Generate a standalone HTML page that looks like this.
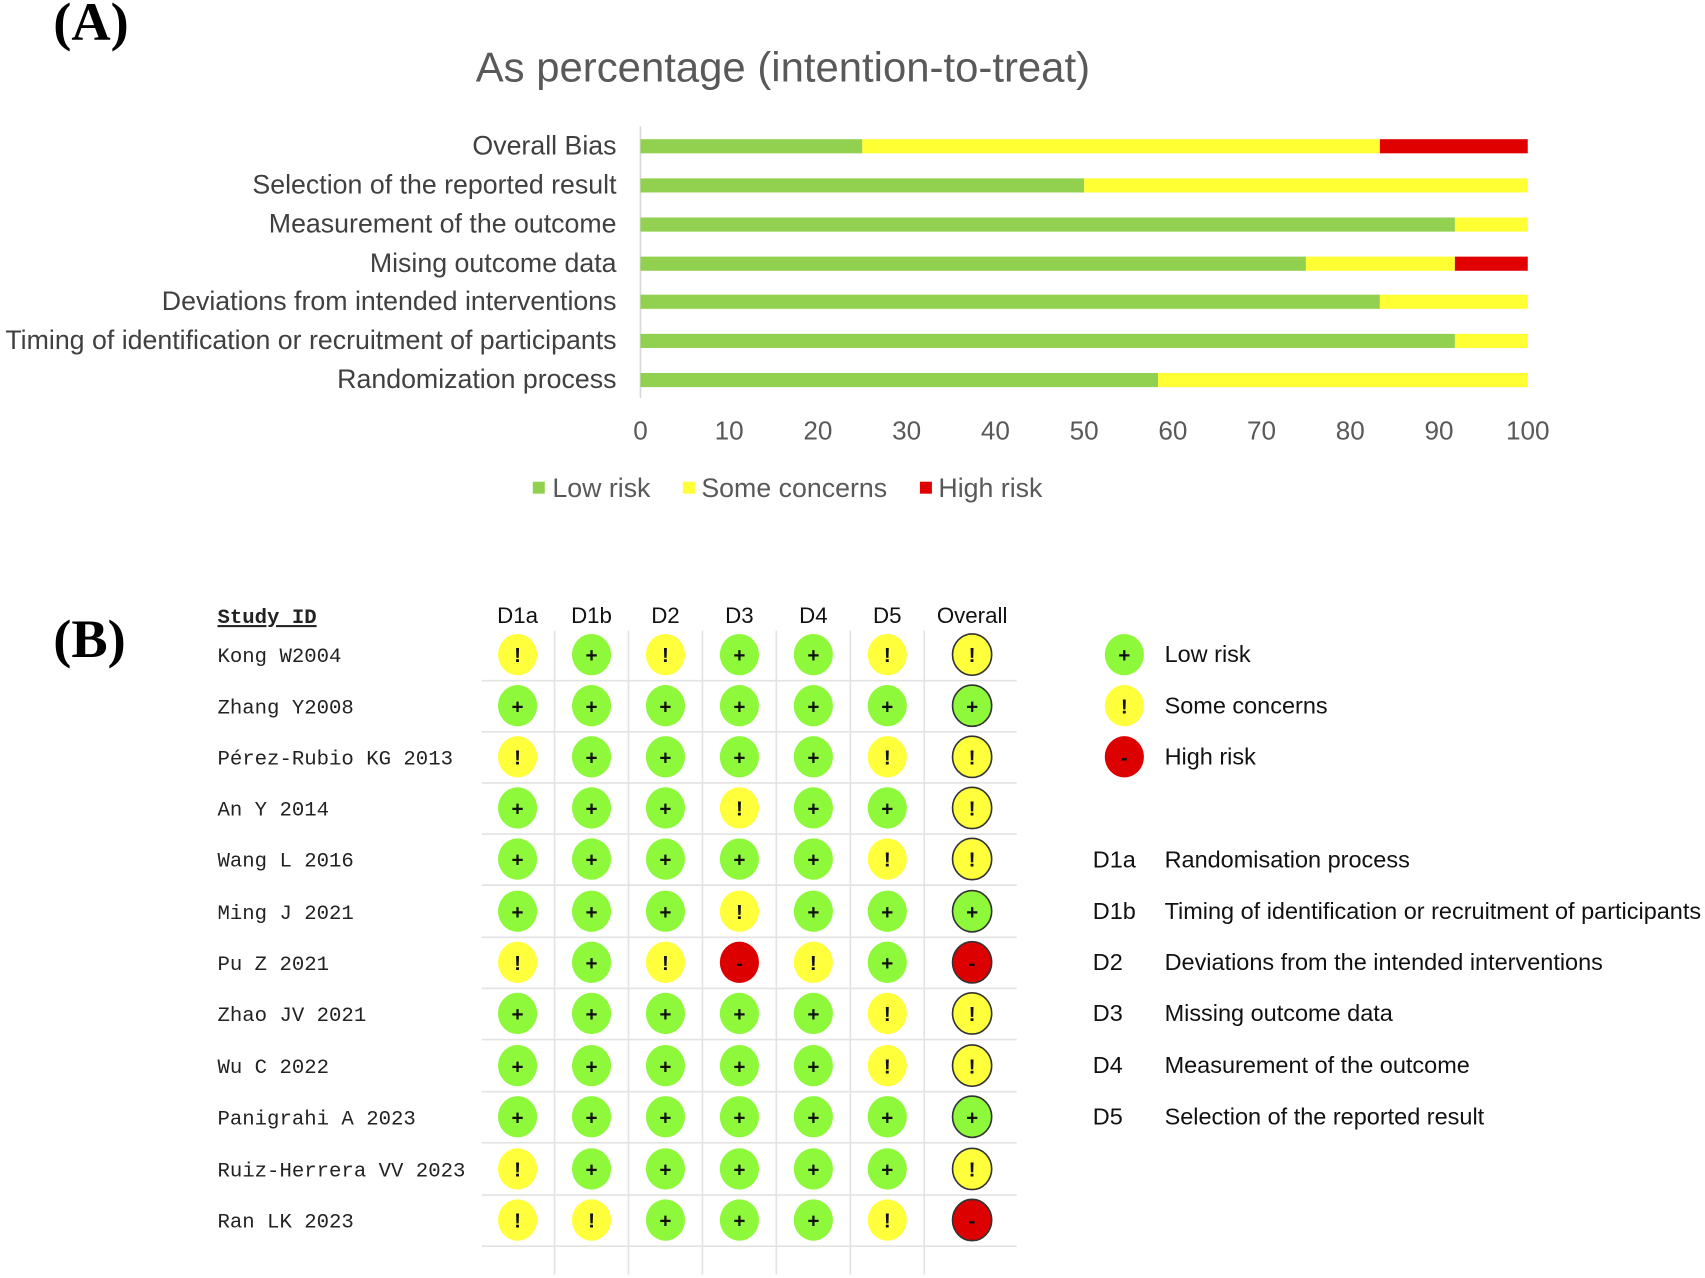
<!DOCTYPE html>
<html><head><meta charset="utf-8"><style>
html,body{margin:0;padding:0;background:#fff}
svg{display:block}
.s{font-family:"Liberation Sans",sans-serif}
.m{font-family:"Liberation Mono",monospace;font-size:19px;fill:#222}
.k{font-family:"Liberation Sans",sans-serif;font-size:19px;font-weight:bold;text-anchor:middle;fill:#111}
.g{fill:#8ef83a}.y{fill:#ffff3b}.r{fill:#dd0000}
.o{stroke:#333;stroke-width:1.5}
</style></head><body>
<svg width="1705" height="1278" viewBox="0 0 1568 1175.3" xmlns="http://www.w3.org/2000/svg">
<text x="49" y="37" font-family="Liberation Serif,serif" font-weight="bold" font-size="50">(A)</text>
<text x="49" y="604" font-family="Liberation Serif,serif" font-weight="bold" font-size="50">(B)</text>
<text class="s" x="720" y="75" font-size="38.5" fill="#595959" text-anchor="middle">As percentage (intention-to-treat)</text>
<line x1="589" y1="116" x2="589" y2="366" stroke="#d9d9d9" stroke-width="1.5"/>
<g class="s" font-size="24.6" fill="#404040" text-anchor="end">
<text x="567" y="142">Overall Bias</text>
<text x="567" y="178">Selection of the reported result</text>
<text x="567" y="214">Measurement of the outcome</text>
<text x="567" y="250">Mising outcome data</text>
<text x="567" y="285">Deviations from intended interventions</text>
<text x="567" y="321">Timing of identification or recruitment of participants</text>
<text x="567" y="357">Randomization process</text>
</g>
<g>
<rect x="589" y="128" width="204" height="13" fill="#92d050"/><rect x="793" y="128" width="476" height="13" fill="#ffff33"/><rect x="1269" y="128" width="136" height="13" fill="#e00000"/>
<rect x="589" y="164" width="408" height="13" fill="#92d050"/><rect x="997" y="164" width="408" height="13" fill="#ffff33"/>
<rect x="589" y="200" width="749" height="13" fill="#92d050"/><rect x="1338" y="200" width="67" height="13" fill="#ffff33"/>
<rect x="589" y="236" width="612" height="13" fill="#92d050"/><rect x="1201" y="236" width="137" height="13" fill="#ffff33"/><rect x="1338" y="236" width="67" height="13" fill="#e00000"/>
<rect x="589" y="271" width="680" height="13" fill="#92d050"/><rect x="1269" y="271" width="136" height="13" fill="#ffff33"/>
<rect x="589" y="307" width="749" height="13" fill="#92d050"/><rect x="1338" y="307" width="67" height="13" fill="#ffff33"/>
<rect x="589" y="343" width="476" height="13" fill="#92d050"/><rect x="1065" y="343" width="340" height="13" fill="#ffff33"/>
</g>
<g class="s" font-size="24" fill="#595959" text-anchor="middle">
<text x="589" y="404">0</text><text x="670.6" y="404">10</text><text x="752.2" y="404">20</text><text x="833.8" y="404">30</text><text x="915.4" y="404">40</text><text x="997" y="404">50</text><text x="1078.6" y="404">60</text><text x="1160.2" y="404">70</text><text x="1241.8" y="404">80</text><text x="1323.4" y="404">90</text><text x="1405" y="404">100</text>
</g>
<g class="s" font-size="24.6" fill="#595959">
<rect x="490" y="443" width="11" height="11" fill="#92d050"/><text x="508" y="457">Low risk</text>
<rect x="628" y="443" width="11" height="11" fill="#ffff33"/><text x="645" y="457">Some concerns</text>
<rect x="846" y="443" width="11" height="11" fill="#e00000"/><text x="863" y="457">High risk</text>
</g>
<g stroke="#e3e3e3" stroke-width="1.5">
<line x1="510" y1="580" x2="510" y2="1172"/><line x1="578" y1="580" x2="578" y2="1172"/><line x1="646" y1="580" x2="646" y2="1172"/><line x1="714" y1="580" x2="714" y2="1172"/><line x1="782" y1="580" x2="782" y2="1172"/><line x1="850" y1="580" x2="850" y2="1172"/>
<line x1="443" y1="626" x2="935" y2="626"/><line x1="443" y1="673" x2="935" y2="673"/><line x1="443" y1="720" x2="935" y2="720"/><line x1="443" y1="767" x2="935" y2="767"/><line x1="443" y1="814" x2="935" y2="814"/><line x1="443" y1="862" x2="935" y2="862"/><line x1="443" y1="909" x2="935" y2="909"/><line x1="443" y1="956" x2="935" y2="956"/><line x1="443" y1="1004" x2="935" y2="1004"/><line x1="443" y1="1051" x2="935" y2="1051"/><line x1="443" y1="1099" x2="935" y2="1099"/><line x1="443" y1="1146" x2="935" y2="1146"/>
</g>
<g class="s" font-size="20.5" fill="#111" text-anchor="middle">
<text x="476" y="573">D1a</text><text x="544" y="573">D1b</text><text x="612" y="573">D2</text><text x="680" y="573">D3</text><text x="748" y="573">D4</text><text x="816" y="573">D5</text><text x="894" y="573">Overall</text>
</g>
<text class="m" x="200" y="573" font-weight="bold" text-decoration="underline">Study ID</text>
<g class="m">
<text x="200" y="609">Kong W2004</text>
<text x="200" y="656">Zhang Y2008</text>
<text x="200" y="703">Pérez-Rubio KG 2013</text>
<text x="200" y="750">An Y 2014</text>
<text x="200" y="797">Wang L 2016</text>
<text x="200" y="845">Ming J 2021</text>
<text x="200" y="892">Pu Z 2021</text>
<text x="200" y="939">Zhao JV 2021</text>
<text x="200" y="987">Wu C 2022</text>
<text x="200" y="1034">Panigrahi A 2023</text>
<text x="200" y="1082">Ruiz-Herrera VV 2023</text>
<text x="200" y="1129">Ran LK 2023</text>
</g>
<ellipse cx="1034" cy="602" rx="18" ry="19" class="g"/><text class="k" x="1034" y="609">+</text>
<ellipse cx="1034" cy="649" rx="18" ry="19" class="y"/><text class="k" x="1034" y="656">!</text>
<ellipse cx="1034" cy="696" rx="18" ry="19" class="r"/><text class="k" x="1034" y="703">-</text>
<g class="s" font-size="21.6" fill="#111">
<text x="1071" y="609">Low risk</text><text x="1071" y="656">Some concerns</text><text x="1071" y="703">High risk</text>
<text x="1005" y="798">D1a</text><text x="1071" y="798">Randomisation process</text>
<text x="1005" y="845">D1b</text><text x="1071" y="845">Timing of identification or recruitment of participants</text>
<text x="1005" y="892">D2</text><text x="1071" y="892">Deviations from the intended interventions</text>
<text x="1005" y="939">D3</text><text x="1071" y="939">Missing outcome data</text>
<text x="1005" y="987">D4</text><text x="1071" y="987">Measurement of the outcome</text>
<text x="1005" y="1034">D5</text><text x="1071" y="1034">Selection of the reported result</text>
</g>
<g>
<g transform="translate(0,602)">
<ellipse cx="476" rx="18" ry="19" class="y"/><text class="k" x="476" y="7">!</text>
<ellipse cx="544" rx="18" ry="19" class="g"/><text class="k" x="544" y="7">+</text>
<ellipse cx="612" rx="18" ry="19" class="y"/><text class="k" x="612" y="7">!</text>
<ellipse cx="680" rx="18" ry="19" class="g"/><text class="k" x="680" y="7">+</text>
<ellipse cx="748" rx="18" ry="19" class="g"/><text class="k" x="748" y="7">+</text>
<ellipse cx="816" rx="18" ry="19" class="y"/><text class="k" x="816" y="7">!</text>
<ellipse cx="894" rx="18" ry="19" class="y o"/><text class="k" x="894" y="7">!</text>
</g>
<g transform="translate(0,649)">
<ellipse cx="476" rx="18" ry="19" class="g"/><text class="k" x="476" y="7">+</text>
<ellipse cx="544" rx="18" ry="19" class="g"/><text class="k" x="544" y="7">+</text>
<ellipse cx="612" rx="18" ry="19" class="g"/><text class="k" x="612" y="7">+</text>
<ellipse cx="680" rx="18" ry="19" class="g"/><text class="k" x="680" y="7">+</text>
<ellipse cx="748" rx="18" ry="19" class="g"/><text class="k" x="748" y="7">+</text>
<ellipse cx="816" rx="18" ry="19" class="g"/><text class="k" x="816" y="7">+</text>
<ellipse cx="894" rx="18" ry="19" class="g o"/><text class="k" x="894" y="7">+</text>
</g>
<g transform="translate(0,696)">
<ellipse cx="476" rx="18" ry="19" class="y"/><text class="k" x="476" y="7">!</text>
<ellipse cx="544" rx="18" ry="19" class="g"/><text class="k" x="544" y="7">+</text>
<ellipse cx="612" rx="18" ry="19" class="g"/><text class="k" x="612" y="7">+</text>
<ellipse cx="680" rx="18" ry="19" class="g"/><text class="k" x="680" y="7">+</text>
<ellipse cx="748" rx="18" ry="19" class="g"/><text class="k" x="748" y="7">+</text>
<ellipse cx="816" rx="18" ry="19" class="y"/><text class="k" x="816" y="7">!</text>
<ellipse cx="894" rx="18" ry="19" class="y o"/><text class="k" x="894" y="7">!</text>
</g>
<g transform="translate(0,743)">
<ellipse cx="476" rx="18" ry="19" class="g"/><text class="k" x="476" y="7">+</text>
<ellipse cx="544" rx="18" ry="19" class="g"/><text class="k" x="544" y="7">+</text>
<ellipse cx="612" rx="18" ry="19" class="g"/><text class="k" x="612" y="7">+</text>
<ellipse cx="680" rx="18" ry="19" class="y"/><text class="k" x="680" y="7">!</text>
<ellipse cx="748" rx="18" ry="19" class="g"/><text class="k" x="748" y="7">+</text>
<ellipse cx="816" rx="18" ry="19" class="g"/><text class="k" x="816" y="7">+</text>
<ellipse cx="894" rx="18" ry="19" class="y o"/><text class="k" x="894" y="7">!</text>
</g>
<g transform="translate(0,790)">
<ellipse cx="476" rx="18" ry="19" class="g"/><text class="k" x="476" y="7">+</text>
<ellipse cx="544" rx="18" ry="19" class="g"/><text class="k" x="544" y="7">+</text>
<ellipse cx="612" rx="18" ry="19" class="g"/><text class="k" x="612" y="7">+</text>
<ellipse cx="680" rx="18" ry="19" class="g"/><text class="k" x="680" y="7">+</text>
<ellipse cx="748" rx="18" ry="19" class="g"/><text class="k" x="748" y="7">+</text>
<ellipse cx="816" rx="18" ry="19" class="y"/><text class="k" x="816" y="7">!</text>
<ellipse cx="894" rx="18" ry="19" class="y o"/><text class="k" x="894" y="7">!</text>
</g>
<g transform="translate(0,838)">
<ellipse cx="476" rx="18" ry="19" class="g"/><text class="k" x="476" y="7">+</text>
<ellipse cx="544" rx="18" ry="19" class="g"/><text class="k" x="544" y="7">+</text>
<ellipse cx="612" rx="18" ry="19" class="g"/><text class="k" x="612" y="7">+</text>
<ellipse cx="680" rx="18" ry="19" class="y"/><text class="k" x="680" y="7">!</text>
<ellipse cx="748" rx="18" ry="19" class="g"/><text class="k" x="748" y="7">+</text>
<ellipse cx="816" rx="18" ry="19" class="g"/><text class="k" x="816" y="7">+</text>
<ellipse cx="894" rx="18" ry="19" class="g o"/><text class="k" x="894" y="7">+</text>
</g>
<g transform="translate(0,885)">
<ellipse cx="476" rx="18" ry="19" class="y"/><text class="k" x="476" y="7">!</text>
<ellipse cx="544" rx="18" ry="19" class="g"/><text class="k" x="544" y="7">+</text>
<ellipse cx="612" rx="18" ry="19" class="y"/><text class="k" x="612" y="7">!</text>
<ellipse cx="680" rx="18" ry="19" class="r"/><text class="k" x="680" y="7">-</text>
<ellipse cx="748" rx="18" ry="19" class="y"/><text class="k" x="748" y="7">!</text>
<ellipse cx="816" rx="18" ry="19" class="g"/><text class="k" x="816" y="7">+</text>
<ellipse cx="894" rx="18" ry="19" class="r o"/><text class="k" x="894" y="7">-</text>
</g>
<g transform="translate(0,932)">
<ellipse cx="476" rx="18" ry="19" class="g"/><text class="k" x="476" y="7">+</text>
<ellipse cx="544" rx="18" ry="19" class="g"/><text class="k" x="544" y="7">+</text>
<ellipse cx="612" rx="18" ry="19" class="g"/><text class="k" x="612" y="7">+</text>
<ellipse cx="680" rx="18" ry="19" class="g"/><text class="k" x="680" y="7">+</text>
<ellipse cx="748" rx="18" ry="19" class="g"/><text class="k" x="748" y="7">+</text>
<ellipse cx="816" rx="18" ry="19" class="y"/><text class="k" x="816" y="7">!</text>
<ellipse cx="894" rx="18" ry="19" class="y o"/><text class="k" x="894" y="7">!</text>
</g>
<g transform="translate(0,980)">
<ellipse cx="476" rx="18" ry="19" class="g"/><text class="k" x="476" y="7">+</text>
<ellipse cx="544" rx="18" ry="19" class="g"/><text class="k" x="544" y="7">+</text>
<ellipse cx="612" rx="18" ry="19" class="g"/><text class="k" x="612" y="7">+</text>
<ellipse cx="680" rx="18" ry="19" class="g"/><text class="k" x="680" y="7">+</text>
<ellipse cx="748" rx="18" ry="19" class="g"/><text class="k" x="748" y="7">+</text>
<ellipse cx="816" rx="18" ry="19" class="y"/><text class="k" x="816" y="7">!</text>
<ellipse cx="894" rx="18" ry="19" class="y o"/><text class="k" x="894" y="7">!</text>
</g>
<g transform="translate(0,1027)">
<ellipse cx="476" rx="18" ry="19" class="g"/><text class="k" x="476" y="7">+</text>
<ellipse cx="544" rx="18" ry="19" class="g"/><text class="k" x="544" y="7">+</text>
<ellipse cx="612" rx="18" ry="19" class="g"/><text class="k" x="612" y="7">+</text>
<ellipse cx="680" rx="18" ry="19" class="g"/><text class="k" x="680" y="7">+</text>
<ellipse cx="748" rx="18" ry="19" class="g"/><text class="k" x="748" y="7">+</text>
<ellipse cx="816" rx="18" ry="19" class="g"/><text class="k" x="816" y="7">+</text>
<ellipse cx="894" rx="18" ry="19" class="g o"/><text class="k" x="894" y="7">+</text>
</g>
<g transform="translate(0,1075)">
<ellipse cx="476" rx="18" ry="19" class="y"/><text class="k" x="476" y="7">!</text>
<ellipse cx="544" rx="18" ry="19" class="g"/><text class="k" x="544" y="7">+</text>
<ellipse cx="612" rx="18" ry="19" class="g"/><text class="k" x="612" y="7">+</text>
<ellipse cx="680" rx="18" ry="19" class="g"/><text class="k" x="680" y="7">+</text>
<ellipse cx="748" rx="18" ry="19" class="g"/><text class="k" x="748" y="7">+</text>
<ellipse cx="816" rx="18" ry="19" class="g"/><text class="k" x="816" y="7">+</text>
<ellipse cx="894" rx="18" ry="19" class="y o"/><text class="k" x="894" y="7">!</text>
</g>
<g transform="translate(0,1122)">
<ellipse cx="476" rx="18" ry="19" class="y"/><text class="k" x="476" y="7">!</text>
<ellipse cx="544" rx="18" ry="19" class="y"/><text class="k" x="544" y="7">!</text>
<ellipse cx="612" rx="18" ry="19" class="g"/><text class="k" x="612" y="7">+</text>
<ellipse cx="680" rx="18" ry="19" class="g"/><text class="k" x="680" y="7">+</text>
<ellipse cx="748" rx="18" ry="19" class="g"/><text class="k" x="748" y="7">+</text>
<ellipse cx="816" rx="18" ry="19" class="y"/><text class="k" x="816" y="7">!</text>
<ellipse cx="894" rx="18" ry="19" class="r o"/><text class="k" x="894" y="7">-</text>
</g>
</g>
</svg>
</body></html>
